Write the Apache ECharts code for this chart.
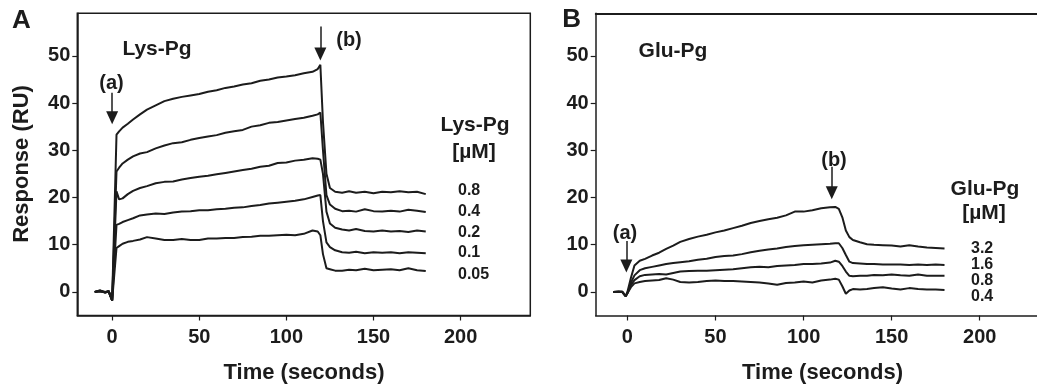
<!DOCTYPE html>
<html>
<head>
<meta charset="utf-8">
<script src="https://cdn.jsdelivr.net/npm/echarts@6/dist/echarts.min.js"></script>
<style>
html,body{margin:0;padding:0;background:#fff;}
#chart{width:1037px;height:386px;}
</style>
</head>
<body>
<div id="chart"></div>
<script>
// ---------- data ----------
const xTicks = [0, 50, 100, 150, 200];
const yTicks = [0, 10, 20, 30, 40, 50];

const timesA = [-10,-7,-4,-2,0,2.5,4,6,9,12,16,20,25,30,35,40,45,50,55,60,65,70,75,80,85,90,95,100,105,110,115,118,119.5,121,123,125,128,132,136,140,145,150,155,160,165,170,175,180];
const lys080 = [0,0.3,-0.2,0.1,-1.8,33.3,34.0,34.8,35.6,36.5,37.6,38.6,39.5,40.4,40.9,41.3,41.6,41.9,42.4,42.7,43.2,43.5,43.9,44.2,44.7,45.0,45.4,45.6,45.9,46.3,46.6,47.2,48.1,36.0,25.0,22.0,21.2,21.0,21.3,21.0,21.2,20.9,21.2,21.1,21.3,21.1,21.2,20.7];
const lys040 = [0,0.2,-0.1,0.2,-1.8,25.5,26.3,27.2,28.0,28.7,29.3,29.6,30.4,31.0,31.5,31.7,32.2,32.6,32.9,33.2,33.7,34.0,34.3,35.0,35.3,35.8,36.0,36.3,36.6,36.9,37.3,37.6,38.0,30.0,20.5,18.5,17.6,17.1,17.2,17.0,17.5,17.1,17.0,17.2,17.0,17.4,17.2,16.9];
const lys020 = [0,0.1,0,0,-1.8,21.3,19.6,19.8,20.7,21.4,22.0,22.4,23.0,23.3,23.4,23.8,24.1,24.4,24.6,24.9,25.2,25.5,25.8,26.1,26.5,26.7,27.3,27.4,27.8,28.0,28.3,28.2,28.0,25.0,17.0,14.5,13.6,13.2,13.0,13.3,12.9,12.8,13.0,12.8,12.9,12.7,13.0,12.8];
const lys010 = [0,0.2,-0.1,0.1,-1.8,14.2,14.4,14.8,15.2,15.6,16.2,16.4,16.6,16.5,16.8,17.0,17.1,17.3,17.3,17.5,17.6,17.8,17.9,18.2,18.4,18.7,18.9,19.1,19.3,19.6,20.1,20.4,20.5,15.0,10.5,9.5,8.8,8.4,8.3,8.5,8.2,8.4,8.3,8.4,8.2,8.4,8.3,8.2];
const lys005 = [0,0.3,0,0.2,-1.8,9.3,9.7,10.2,10.6,10.8,11.1,11.6,11.3,11.0,11.0,11.2,11.0,11.0,11.3,11.3,11.4,11.4,11.6,11.7,11.9,11.9,12.0,12.1,12.0,12.3,13.0,12.8,12.0,8.0,5.0,4.8,4.5,4.5,4.7,4.6,4.9,4.6,4.7,4.8,4.6,5.0,4.6,4.4];
const lysConc = ['0.8','0.4','0.2','0.1','0.05'];

const timesB = [-8,-5,-3,-1,0,2,4,7,10,14,18,22,26,30,35,40,45,50,55,60,65,70,75,80,85,90,95,100,105,110,115,118,120,122,124,126,128,132,136,140,145,150,155,160,165,170,175,180];
const glu32 = [0,0.1,0,-0.9,0,3.0,5.6,6.6,7.0,7.7,8.3,9.1,9.8,10.6,11.2,11.7,12.1,12.6,13.0,13.5,14.0,14.6,15.0,15.4,15.7,16.2,17.0,17.0,17.3,17.7,17.9,18.0,17.6,15.8,13.0,11.6,11.0,10.5,10.1,10.0,9.9,9.8,9.6,9.9,9.6,9.4,9.3,9.2];
const glu16 = [0,0,0.1,-0.9,-0.3,2.0,3.5,4.6,5.0,5.3,5.6,5.9,6.1,6.3,6.5,6.8,7.0,7.4,7.6,7.7,8.0,8.4,8.7,9.0,9.2,9.5,9.7,9.9,10.0,10.1,10.2,10.3,10.3,9.3,7.8,6.4,6.1,6.0,5.9,5.9,5.8,5.8,5.8,5.7,5.8,5.7,5.8,5.7];
const glu08 = [0,0,0,-0.9,-0.3,1.5,2.5,3.3,3.6,3.7,3.8,3.7,4.0,4.3,4.4,4.5,4.5,4.6,4.7,4.8,5.0,5.2,5.3,5.2,5.5,5.6,5.7,5.9,5.9,6.0,6.2,6.6,6.4,5.5,4.3,3.4,3.3,3.4,3.4,3.6,3.5,3.7,3.5,3.4,3.7,3.4,3.4,3.4];
const glu04 = [0,0.1,0,-0.9,-0.3,1.0,1.8,2.1,2.3,2.4,2.5,2.9,2.6,2.1,2.0,2.1,2.3,2.4,2.3,2.3,2.2,2.1,2.0,1.8,1.5,1.9,2.0,2.2,2.0,2.4,2.6,2.8,2.6,1.2,-0.4,0.3,0.6,0.5,0.6,0.8,1.0,0.7,0.5,0.8,0.6,0.5,0.5,0.4];
const gluConc = ['3.2','1.6','0.8','0.4'];

// arrows: [x, yStart, yEnd] in data units
const arrowsA = [[0, 42.2, 36.9], [119.5, 56.2, 50.4]];
const arrowsB = [[-0.6, 10.8, 5.5], [116, 26.5, 21.0]];

// ---------- chart ----------
const INK = '#1c1c1c';
const FONT = '"Liberation Sans", Arial, Helvetica, sans-serif';
const pair = (ts, vs) => ts.map((t, i) => [t, vs[i]]);

function lineSeries(name, idx, ts, vs) {
  return {
    name: name, type: 'line', xAxisIndex: idx, yAxisIndex: idx,
    data: pair(ts, vs), showSymbol: false, symbol: 'none', smooth: false,
    lineStyle: { color: INK, width: 2 }, silent: true, animation: false, z: 3
  };
}
function arrowSeries(idx, arrows) {
  return {
    type: 'line', xAxisIndex: idx, yAxisIndex: idx, data: [], silent: true, animation: false,
    markLine: {
      silent: true, animation: false,
      symbol: ['none', 'triangle'], symbolSize: [12, 13],
      label: { show: false },
      lineStyle: { color: INK, width: 1.5, type: 'solid' },
      data: arrows.map(a => [{ coord: [a[0], a[1]] }, { coord: [a[0], a[2]] }])
    }
  };
}
function xAx(idx, min, max) {
  return {
    type: 'value', gridIndex: idx, min: min, max: max,
    axisLine: { show: true, onZero: false, lineStyle: { color: INK, width: 1.5 } },
    axisTick: { show: true, length: 5, customValues: xTicks, lineStyle: { color: INK, width: 1.2 } },
    axisLabel: { customValues: xTicks, margin: 12, color: INK, fontSize: 20, fontWeight: 'bold', fontFamily: FONT },
    splitLine: { show: false }
  };
}
function yAx(idx) {
  return {
    type: 'value', gridIndex: idx, min: -5, max: 59,
    axisLine: { show: true, onZero: false, lineStyle: { color: INK, width: 1.5 } },
    axisTick: { show: true, length: 5, customValues: yTicks, lineStyle: { color: INK, width: 1.2 } },
    axisLabel: { customValues: yTicks, margin: 7, color: INK, fontSize: 20, fontWeight: 'bold', fontFamily: FONT },
    splitLine: { show: false }
  };
}
function txt(text, x, y, size, opts) {
  return Object.assign({
    type: 'text', x: x, y: y, silent: true,
    style: { text: text, fill: INK, font: 'bold ' + size + 'px ' + FONT, align: 'center', verticalAlign: 'middle' }
  }, opts || {});
}
function leftTxt(text, x, y, size) {
  return { type: 'text', x: x, y: y, silent: true,
    style: { text: text, fill: INK, font: 'bold ' + size + 'px ' + FONT, align: 'left', verticalAlign: 'middle' } };
}

const lysSeries = [lys080, lys040, lys020, lys010, lys005];
const gluSeries = [glu32, glu16, glu08, glu04];
const lysY = [191, 211.3, 232.5, 252.5, 274.2];
const gluY = [249, 265, 281, 296.5];

const graphics = [
  txt('A', 21.3, 21, 26),
  txt('B', 571.7, 20, 26),
  txt('Response (RU)', 22, 164, 22, { rotation: Math.PI / 2 }),
  txt('Time (seconds)', 304, 373, 22),
  txt('Time (seconds)', 822.5, 373, 22),
  txt('Lys-Pg', 157, 49, 21),
  txt('(a)', 111.5, 83, 20),
  txt('(b)', 349, 40, 20),
  txt('Lys-Pg', 475, 125, 21),
  txt('[µM]', 474, 152, 21),
  txt('Glu-Pg', 673, 51, 21),
  txt('(a)', 625, 233, 20),
  txt('(b)', 834, 160, 20),
  txt('Glu-Pg', 985, 189, 21),
  txt('[µM]', 984, 213, 21)
];
lysConc.forEach((c, i) => graphics.push(leftTxt(c, 458, lysY[i], 16)));
gluConc.forEach((c, i) => graphics.push(leftTxt(c, 971, gluY[i], 16)));

// panel B frame is cut at the right edge of the picture: grid ends at the canvas edge
const topLineB = {
  type: 'value', gridIndex: 1, position: 'top', min: -18, max: 232.5,
  axisLine: { show: true, onZero: false, lineStyle: { color: INK, width: 1.8 } },
  axisTick: { show: false }, axisLabel: { show: false }, splitLine: { show: false }
};

const option = {
  animation: false,
  backgroundColor: '#fff',
  grid: [
    { left: 77.3, top: 13.3, width: 453, height: 302.2, show: true, borderColor: INK, borderWidth: 1.5, backgroundColor: 'transparent' },
    { left: 595.7, top: 13.3, width: 441.3, height: 302.2, show: false }
  ],
  xAxis: [xAx(0, -20, 240), xAx(1, -18, 232.5), topLineB],
  yAxis: [yAx(0), yAx(1)],
  series: [
    ...lysSeries.map((v, i) => lineSeries('Lys-Pg ' + lysConc[i] + ' µM', 0, timesA, v)),
    ...gluSeries.map((v, i) => lineSeries('Glu-Pg ' + gluConc[i] + ' µM', 1, timesB, v)),
    arrowSeries(0, arrowsA),
    arrowSeries(1, arrowsB)
  ],
  graphic: graphics
};

const chart = echarts.init(document.getElementById('chart'), null, { renderer: 'canvas' });
chart.setOption(option);
</script>
</body>
</html>
